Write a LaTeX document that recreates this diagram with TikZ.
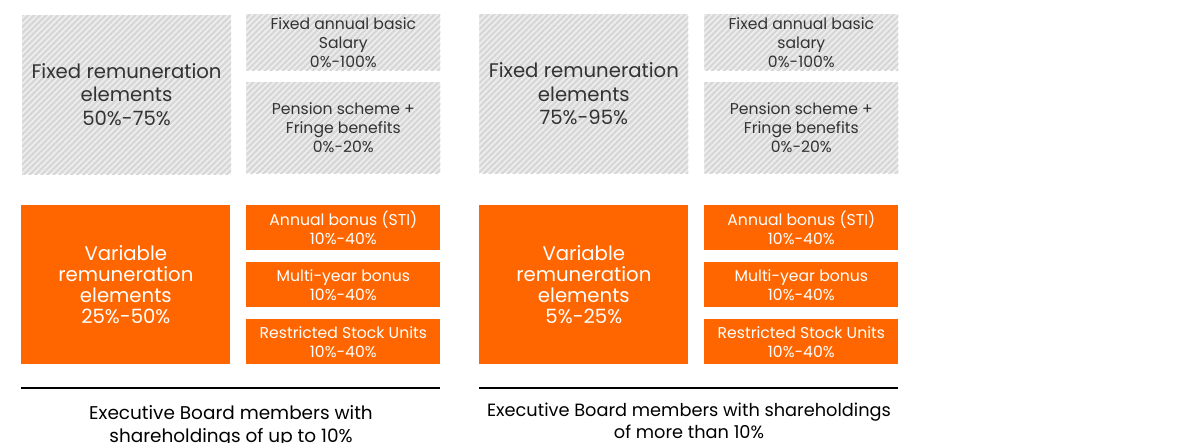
\documentclass[tikz,border=0pt]{standalone}
\usepackage{fontspec}
\setmainfont{Poppins}
\usepackage{xcolor}
\usepackage{tikz}
\usetikzlibrary{patterns.meta}
\usetikzlibrary{positioning}

\definecolor{payorange}{HTML}{FF6600}
\definecolor{hatchbg}{HTML}{EDEDED}
\definecolor{hatchline}{HTML}{D6D6D6}
\definecolor{paytext}{HTML}{333333}

\tikzset{
  fixedbox/.style={anchor=north west, inner sep=0pt, align=center, text=paytext,
    preaction={fill=hatchbg},
    pattern={Lines[angle=45,distance=2.4pt,line width=1.2pt]}, pattern color=hatchline},
  varbox/.style={anchor=north west, inner sep=0pt, align=center, text=white, fill=payorange},
  bigtext/.style={font=\fontsize{11.2}{13.4}\selectfont},
  vartext/.style={font=\fontsize{11.2}{11.9}\selectfont},
  smalltext/.style={font=\fontsize{8.9}{10.8}\selectfont},
  captext/.style={align=center, text=black, font=\fontsize{10.5}{12.8}\selectfont},
}

\begin{document}
\begin{tikzpicture}
		\useasboundingbox (0,0) rectangle (23.6,-8.86);
		\foreach \dx/\pre/\fixp/\varp/\sal in {0/L/50\%-75\%/25\%-50\%/Salary, 9.16/R/75\%-95\%/5\%-25\%/salary}{
			% fixed part
			\node[fixedbox,bigtext,minimum width=4.18cm,minimum height=3.18cm] (\pre fix) at (0.42+\dx,-0.28) {Fixed remuneration\\elements\\\fixp};
			\node[fixedbox,smalltext,minimum width=3.88cm,minimum height=1.12cm] (\pre sal) at (4.92+\dx,-0.28) {Fixed annual basic\\\sal\\0\%-100\%};
			\node[fixedbox,smalltext,minimum width=3.88cm,minimum height=1.82cm] (\pre pen) at (4.92+\dx,-1.64) {Pension scheme +\\Fringe benefits\\0\%-20\%};
			% variable part
			\node[varbox,vartext,minimum width=4.18cm,minimum height=3.18cm] (\pre var) at (0.42+\dx,-4.10) {Variable\\remuneration\\elements\\\varp};
			\node[varbox,smalltext,minimum width=3.88cm,minimum height=0.90cm] (\pre sti) at (4.92+\dx,-4.10) {Annual bonus (STI)\\10\%-40\%};
			\node[varbox,smalltext,minimum width=3.88cm,minimum height=0.90cm] (\pre myb) at (4.92+\dx,-5.24) {Multi-year bonus\\10\%-40\%};
			\node[varbox,smalltext,minimum width=3.88cm,minimum height=0.90cm] (\pre rsu) at (4.92+\dx,-6.38) {Restricted Stock Units\\10\%-40\%};
			% base line
			\draw[line width=1.2pt] (0.42+\dx,-7.76) coordinate (\pre a) -- (8.80+\dx,-7.76) coordinate (\pre b);
		}
		\node[captext] (Lcap) at (4.62,-8.53) {Executive Board members with\\shareholdings of up to 10\%};
		\node[captext,font=\fontsize{10.1}{12.6}\selectfont] (Rcap) at (13.78,-8.42) {Executive Board members with shareholdings\\of more than 10\%};
	\end{tikzpicture}
\end{document}
